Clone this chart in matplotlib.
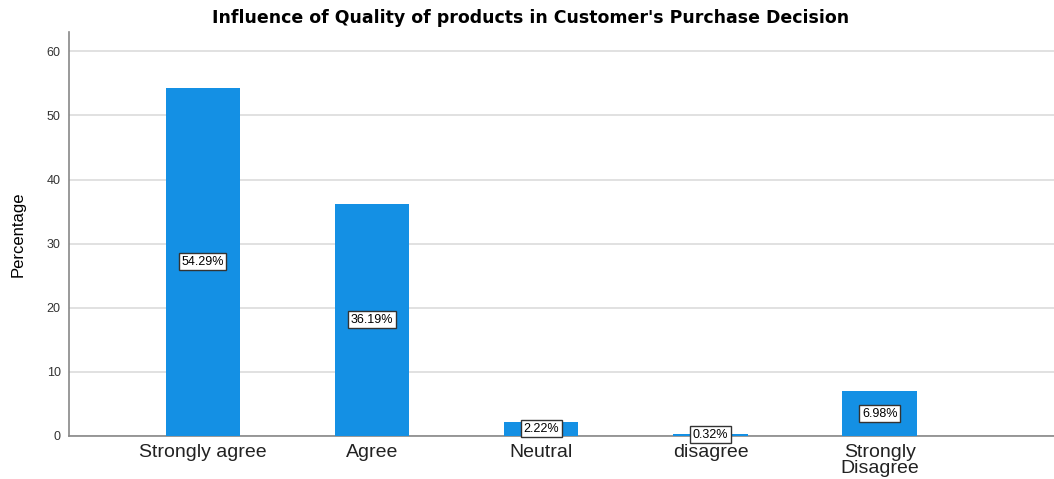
import matplotlib.pyplot as plt

categories = ['Strongly agree', 'Agree', 'Neutral', 'disagree', 'Strongly\nDisagree']
percentages = [54.29, 36.19, 2.22, 0.32, 6.98]
yticks = [0, 10, 20, 30, 40, 50, 60]

fig = plt.figure(figsize=(10.54, 4.79), dpi=100)
ax = fig.add_axes([0.0655, 0.09, 0.9345, 0.843])

x = range(len(categories))
ax.bar(x, percentages, width=0.44, color='#1490e4', zorder=3)

# value labels in the middle of each bar
for i, v in enumerate(percentages):
    ax.text(i, v / 2, f'{v:.2f}%', ha='center', va='center', fontsize=9,
            family='Liberation Sans', zorder=4,
            bbox=dict(boxstyle='square,pad=0.2', fc='white', ec='#333333', lw=1.0))

ax.set_xlim(-0.79, 5.03)
ax.set_ylim(0, 63)
ax.set_yticks(yticks)
ax.set_xticks(list(x))
ax.set_xticklabels(categories, fontsize=14, family='Liberation Sans',
                   color='#222222', linespacing=0.9)
for lbl in ax.get_yticklabels():
    lbl.set_family('Liberation Sans')
ax.tick_params(axis='y', labelsize=9, length=0, pad=6, colors='#333333')
ax.tick_params(axis='x', length=0, pad=6)
ax.yaxis.grid(True, color='#dcdcdc', lw=1.2, zorder=0)

for s in ['top', 'right']:
    ax.spines[s].set_visible(False)
for s in ['left', 'bottom']:
    ax.spines[s].set_color('#888888')
    ax.spines[s].set_linewidth(1.2)

ax.set_ylabel('Percentage', fontsize=12, family='Liberation Sans')
ax.yaxis.set_label_coords(-0.044, 0.5)
fig.text(0.503, 0.962, "Influence of Quality of products in Customer's Purchase Decision",
         ha='center', va='center', fontsize=12.5, fontweight='bold')

plt.savefig('out.png', dpi=100)
